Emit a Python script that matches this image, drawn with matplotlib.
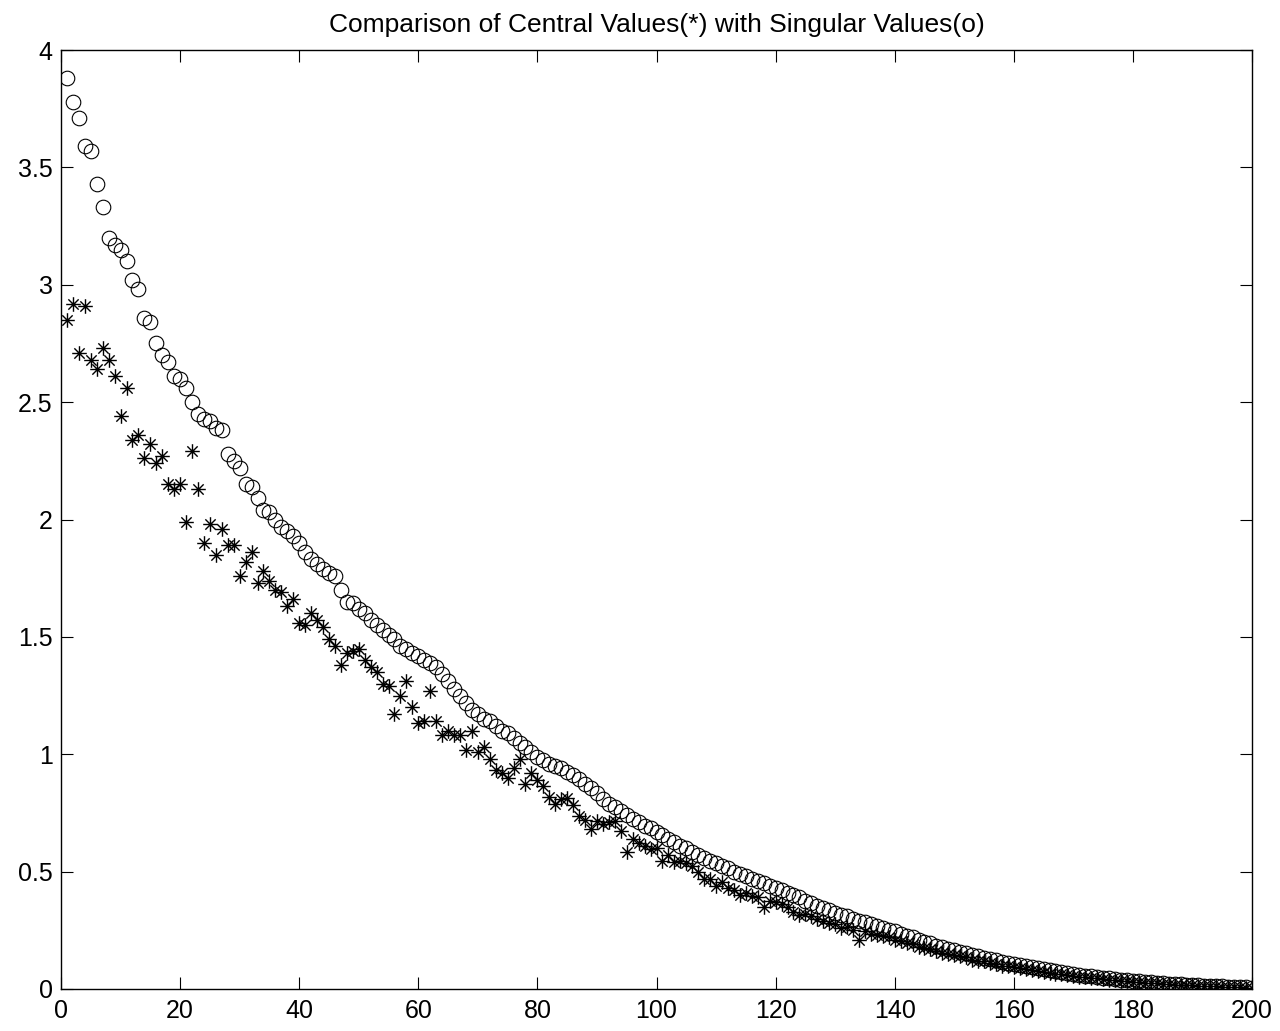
import matplotlib
matplotlib.use('Agg')
import matplotlib.pyplot as plt
import numpy as np
from matplotlib.path import Path

# singular values (o), index 1..200
singular = [
    3.88, 3.78, 3.71, 3.59, 3.57, 3.43, 3.33, 3.20, 3.17, 3.15,
    3.10, 3.02, 2.98, 2.86, 2.84, 2.75, 2.70, 2.67, 2.61, 2.60,
    2.56, 2.50, 2.45, 2.43, 2.42, 2.39, 2.38, 2.28, 2.25, 2.22,
    2.15, 2.14, 2.09, 2.04, 2.03, 2.00, 1.97, 1.95, 1.93, 1.90,
    1.86, 1.83, 1.81, 1.79, 1.77, 1.76, 1.70, 1.65, 1.645, 1.62,
    1.60, 1.57, 1.55, 1.53, 1.51, 1.49, 1.46, 1.45, 1.43, 1.42,
    1.40, 1.39, 1.37, 1.34, 1.31, 1.28, 1.25, 1.22, 1.19, 1.17,
    1.15, 1.14, 1.12, 1.10, 1.09, 1.07, 1.05, 1.03, 1.01, 0.99,
    0.975, 0.96, 0.95, 0.94, 0.925, 0.91, 0.895, 0.875, 0.855, 0.835,
    0.81, 0.79, 0.775, 0.76, 0.74, 0.725, 0.71, 0.695, 0.685, 0.67,
    0.655, 0.64, 0.625, 0.61, 0.60, 0.585, 0.57, 0.56, 0.545, 0.535,
    0.525, 0.515, 0.50, 0.49, 0.48, 0.47, 0.46, 0.45, 0.44, 0.43,
    0.42, 0.41, 0.40, 0.39, 0.375, 0.365, 0.355, 0.345, 0.335, 0.325,
    0.315, 0.31, 0.30, 0.29, 0.285, 0.275, 0.27, 0.26, 0.25, 0.245,
    0.235, 0.225, 0.22, 0.21, 0.20, 0.195, 0.185, 0.18, 0.17, 0.165,
    0.158, 0.152, 0.146, 0.14, 0.134, 0.128, 0.122, 0.117, 0.112, 0.107,
    0.102, 0.097, 0.093, 0.089, 0.084, 0.080, 0.076, 0.072, 0.068, 0.064,
    0.060, 0.057, 0.054, 0.051, 0.048, 0.045, 0.042, 0.040, 0.037, 0.035,
    0.033, 0.031, 0.029, 0.027, 0.025, 0.023, 0.021, 0.020, 0.018, 0.017,
    0.015, 0.014, 0.013, 0.012, 0.011, 0.010, 0.009, 0.008, 0.007, 0.006,
]

# central values (*), index 1..200
central = [
    2.85, 2.92, 2.71, 2.91, 2.68, 2.64, 2.73, 2.68, 2.61, 2.44,
    2.56, 2.34, 2.36, 2.26, 2.32, 2.24, 2.27, 2.15, 2.13, 2.15,
    1.99, 2.29, 2.13, 1.90, 1.98, 1.85, 1.96, 1.89, 1.89, 1.76,
    1.82, 1.86, 1.73, 1.78, 1.74, 1.70, 1.69, 1.63, 1.66, 1.56,
    1.55, 1.60, 1.57, 1.54, 1.49, 1.46, 1.38, 1.43, 1.44, 1.45,
    1.40, 1.37, 1.35, 1.30, 1.29, 1.17, 1.25, 1.31, 1.20, 1.135,
    1.14, 1.27, 1.14, 1.08, 1.10, 1.08, 1.08, 1.02, 1.10, 1.01,
    1.03, 0.98, 0.935, 0.92, 0.90, 0.94, 0.98, 0.875, 0.92, 0.89,
    0.865, 0.82, 0.79, 0.81, 0.815, 0.785, 0.735, 0.72, 0.68, 0.715,
    0.705, 0.71, 0.715, 0.675, 0.585, 0.64, 0.62, 0.61, 0.595, 0.60,
    0.545, 0.57, 0.54, 0.545, 0.535, 0.525, 0.50, 0.47, 0.47, 0.44,
    0.455, 0.43, 0.42, 0.40, 0.41, 0.395, 0.39, 0.35, 0.375, 0.37,
    0.36, 0.35, 0.33, 0.315, 0.32, 0.31, 0.30, 0.29, 0.28, 0.275,
    0.26, 0.265, 0.25, 0.21, 0.245, 0.235, 0.23, 0.225, 0.22, 0.21,
    0.205, 0.195, 0.19, 0.18, 0.175, 0.17, 0.16, 0.155, 0.15, 0.145,
    0.14, 0.135, 0.125, 0.12, 0.118, 0.11, 0.105, 0.10, 0.098, 0.092,
    0.088, 0.084, 0.08, 0.076, 0.072, 0.069, 0.065, 0.062, 0.058, 0.055,
    0.052, 0.05, 0.047, 0.045, 0.042, 0.04, 0.038, 0.035, 0.033, 0.031,
    0.029, 0.027, 0.026, 0.024, 0.022, 0.021, 0.019, 0.018, 0.016, 0.015,
    0.014, 0.013, 0.012, 0.011, 0.010, 0.009, 0.008, 0.007, 0.006, 0.005,
]

x_ticks = [0, 20, 40, 60, 80, 100, 120, 140, 160, 180, 200]
y_ticks = [0, 0.5, 1, 1.5, 2, 2.5, 3, 3.5, 4]
y_tick_labels = ['0', '0.5', '1', '1.5', '2', '2.5', '3', '3.5', '4']
title = 'Comparison of Central Values(*) with Singular Values(o)'


def asterisk():
    """MATLAB-like 8-arm asterisk marker."""
    verts, codes = [], []
    for ang in np.arange(0, 180, 45):
        a = np.deg2rad(ang)
        dx, dy = np.cos(a), np.sin(a)
        verts += [(-dx, -dy), (dx, dy)]
        codes += [Path.MOVETO, Path.LINETO]
    return Path(verts, codes)


def main():
    plt.rcParams['font.family'] = ['Liberation Sans', 'DejaVu Sans']
    fig = plt.figure(figsize=(12.8, 10.31), dpi=100)
    ax = fig.add_axes([61 / 1280, 1 - 989 / 1031, (1252 - 61) / 1280, (989 - 50) / 1031])

    idx = np.arange(1, len(singular) + 1)
    ax.plot(idx, central, linestyle='none', marker=asterisk(), ms=10.5,
            mec='black', mfc='none', mew=1.0)
    ax.plot(idx, singular, linestyle='none', marker='o', ms=10.5,
            mec='black', mfc='none', mew=0.8)

    ax.set_xlim(0, 200)
    ax.set_ylim(0, 4)
    ax.set_xticks(x_ticks)
    ax.set_yticks(y_ticks)
    ax.set_yticklabels(y_tick_labels)
    ax.tick_params(direction='in', length=8.5, width=0.8, top=True, right=True,
                   labelsize=18, colors='black')
    ax.tick_params(axis='x', pad=7)
    ax.tick_params(axis='y', pad=6)
    for s in ax.spines.values():
        s.set_linewidth(1.0)
    ax.set_title(title, fontsize=19, pad=13)

    fig.savefig('out.png', dpi=100)


if __name__ == '__main__':
    main()
